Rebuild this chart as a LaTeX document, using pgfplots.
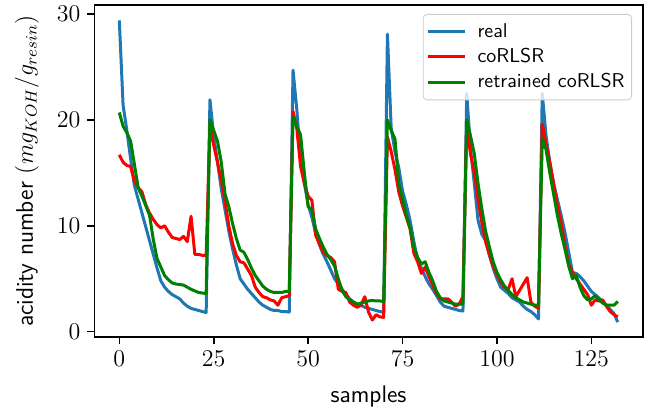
\documentclass[border=0pt]{standalone}
\usepackage{pgfplots}
\usepackage{pgfplotstable}
\pgfplotsset{compat=1.18}
\definecolor{tabblue}{HTML}{1F77B4}
\definecolor{mplgreen}{HTML}{008000}
\definecolor{mplred}{HTML}{FF0000}
\pgfplotstableread{
x real red green
0 29.4 16.7 20.7
1 21.4 16.0 19.4
2 19.0 15.7 18.8
3 16.3 15.6 18.0
4 13.8 14.2 15.8
5 12.5 13.6 13.6
6 11.2 13.2 12.8
7 9.9 12.0 11.9
8 8.6 11.2 11.0
9 7.3 10.6 8.7
10 6.0 10.1 6.9
11 4.8 9.8 6.1
12 4.2 10.0 5.3
13 3.8 9.4 4.9
14 3.5 8.9 4.6
15 3.3 8.8 4.5
16 3.1 8.7 4.45
17 2.7 9.0 4.4
18 2.4 8.5 4.2
19 2.2 10.9 4.0
20 2.1 7.3 3.85
21 2.0 7.3 3.7
22 1.9 7.2 3.65
23 1.8 7.2 3.6
24 21.9 19.4 20.0
25 18.5 17.6 19.0
26 16.0 16.0 18.0
27 13.5 14.3 16.0
28 11.5 12.3 13.0
29 9.5 10.0 11.8
30 7.8 8.3 10.2
31 6.3 7.2 8.8
32 5.0 6.6 7.7
33 4.5 6.5 7.5
34 4.0 5.9 6.8
35 3.6 5.3 6.0
36 3.2 4.2 5.3
37 2.8 3.7 4.8
38 2.5 3.3 4.3
39 2.3 3.2 4.0
40 2.1 3.0 3.8
41 2.0 2.9 3.7
42 2.0 2.5 3.7
43 1.9 3.2 3.7
44 1.9 3.3 3.8
45 1.85 3.4 3.8
46 24.7 20.8 20.3
47 21.0 19.2 19.4
48 16.2 15.6 18.6
49 14.0 14.0 15.0
50 12.0 12.8 11.8
51 10.8 12.4 11.5
52 9.3 9.1 9.7
53 8.2 8.3 8.8
54 7.3 7.5 8.0
55 6.6 7.2 7.3
56 5.8 7.0 6.8
57 5.0 6.6 6.2
58 4.5 4.0 5.0
59 4.0 3.8 3.9
60 3.5 3.7 3.3
61 3.1 2.8 3.0
62 2.8 2.5 2.8
63 2.6 2.3 2.6
64 2.5 2.5 2.7
65 2.3 3.3 2.8
66 2.2 1.85 2.9
67 2.1 1.1 2.95
68 2.0 1.6 2.9
69 1.9 1.4 2.9
70 1.85 1.35 2.85
71 28.1 18.4 20.0
72 19.2 17.0 19.0
73 17.0 15.3 18.2
74 15.5 13.2 14.0
75 13.3 11.9 12.5
76 12.0 10.8 11.0
77 10.5 9.7 9.8
78 8.5 7.4 8.0
79 6.8 6.6 7.0
80 6.0 5.5 6.4
81 5.2 6.1 6.6
82 4.5 5.2 5.6
83 4.0 4.4 4.8
84 3.4 3.6 3.8
85 2.8 3.1 3.2
86 2.4 3.1 2.9
87 2.3 3.1 2.8
88 2.2 2.8 2.7
89 2.1 2.4 2.6
90 2.0 2.6 2.6
91 1.95 3.3 2.6
92 22.5 19.4 20.0
93 17.3 16.8 18.5
94 14.0 15.0 16.8
95 10.5 12.5 14.0
96 9.2 10.3 11.6
97 8.6 8.5 9.5
98 7.2 7.3 8.0
99 6.0 6.2 6.6
100 5.0 5.4 5.6
101 4.2 4.7 4.9
102 3.9 4.2 4.3
103 3.6 4.0 3.9
104 3.2 5.0 3.5
105 3.0 3.3 3.2
106 2.8 3.9 3.0
107 2.4 4.5 2.8
108 2.1 5.1 2.7
109 1.9 2.8 2.6
110 1.6 2.4 2.5
111 1.2 2.2 2.5
112 22.5 19.6 18.3
113 18.5 17.8 17.2
114 16.0 16.0 15.0
115 14.0 14.0 13.0
116 12.5 12.0 11.0
117 11.0 10.3 9.3
118 9.4 8.2 7.8
119 7.5 6.4 6.2
120 5.6 5.6 5.0
121 5.5 5.0 5.3
122 5.2 4.5 4.2
123 4.8 4.0 3.4
124 4.3 3.5 3.0
125 3.8 2.5 3.1
126 3.5 3.0 3.4
127 3.2 2.9 3.0
128 2.8 3.0 2.7
129 2.5 2.4 2.5
130 2.1 1.9 2.5
131 1.7 1.6 2.5
132 0.9 1.4 2.85
}\data
\begin{document}
\begin{tikzpicture}
\begin{axis}[
  scale only axis, width=274.2pt, height=166pt,
  xmin=-6.6, xmax=138.6, ymin=-0.5, ymax=30.85,
  xtick={0,25,50,75,100,125}, ytick={0,10,20,30},
  tick align=outside, tick pos=left, major tick length=3.5pt,
  axis line style={line width=0.8pt},
  every tick/.style={black, line width=0.8pt},
  tick label style={font=\fontsize{12}{14}\selectfont},
  label style={font=\fontsize{12}{14}\selectfont},
  xlabel={\textsf{samples}},
  ylabel={\textsf{acidity number} $(mg_{KOH}/g_{resin})$},
  xlabel style={at={(axis description cs:0.5,-0.178)}, anchor=center},
  ylabel style={at={(axis description cs:-0.123,0.5)}, anchor=center},
  legend style={at={(0.9805,0.973)}, anchor=north east, draw=black!20,
    fill=white, fill opacity=0.8, text opacity=1, rounded corners=2pt,
    font=\sffamily\fontsize{10}{12}\selectfont, cells={anchor=west},
    inner xsep=1.5pt, inner ysep=2.5pt},
  legend image code/.code={\draw[#1] (0cm,0cm) -- (0.65cm,0cm); \path (0.78cm,0cm);},
  every axis plot/.append style={line width=1.5pt, line join=round},
]
\addplot[tabblue] table[x=x, y=real] {\data};
\addlegendentry{real}
\addplot[mplred] table[x=x, y=red] {\data};
\addlegendentry{coRLSR}
\addplot[mplgreen] table[x=x, y=green] {\data};
\addlegendentry{retrained coRLSR}
\coordinate (bl) at (rel axis cs:0,0);
\coordinate (tr) at (rel axis cs:1,1);
\end{axis}
\pgfresetboundingbox
\path[use as bounding box] ([xshift=-47.2pt,yshift=-36pt]bl) rectangle ([xshift=4.65pt,yshift=2.5pt]tr);
\end{tikzpicture}
\end{document}
